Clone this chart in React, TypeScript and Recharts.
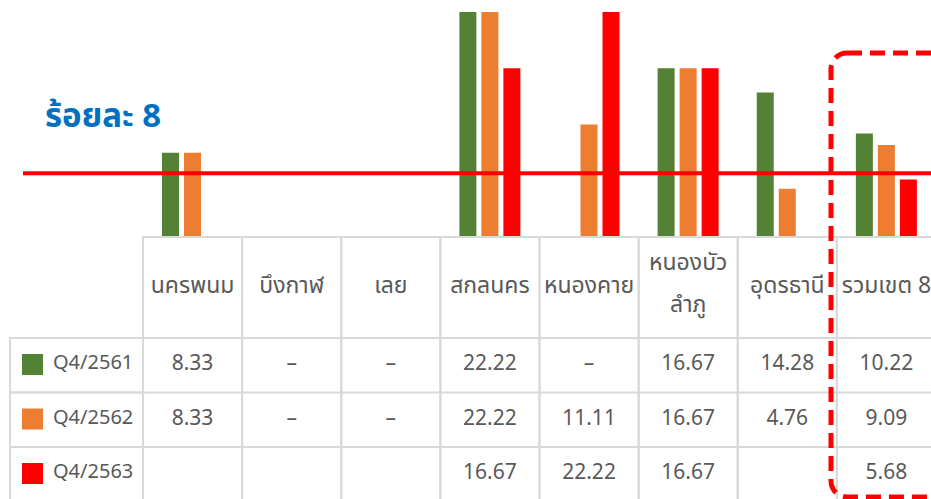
import { Bar, BarChart, ReferenceLine, XAxis, YAxis } from "recharts";

const provinces = [
  "นครพนม",
  "บึงกาฬ",
  "เลย",
  "สกลนคร",
  "หนองคาย",
  "หนองบัวลำภู",
  "อุดรธานี",
  "รวมเขต 8",
];
// header labels as they wrap in the table cell
const headerLines = [
  ["นครพนม"],
  ["บึงกาฬ"],
  ["เลย"],
  ["สกลนคร"],
  ["หนองคาย"],
  ["หนองบัว", "ลำภู"],
  ["อุดรธานี"],
  ["รวมเขต 8"],
];
// 0 = shown as "–", null = empty cell
const q2561 = [8.33, 0, 0, 22.22, 0, 16.67, 14.28, 10.22];
const q2562 = [8.33, 0, 0, 22.22, 11.11, 16.67, 4.76, 9.09];
const q2563 = [null, null, null, 16.67, 22.22, 16.67, null, 5.68];

const seriesNames = ["Q4/2561", "Q4/2562", "Q4/2563"];
const seriesKeys = ["q2561", "q2562", "q2563"];
const colors = ["#548235", "#ED7D31", "#FF0000"];
const targetLine = 6.3;
const targetLabel = "ร้อยละ 8";

const data = provinces.map((name, i) => ({
  name,
  q2561: q2561[i],
  q2562: q2562[i],
  q2563: q2563[i],
}));

const FONT = "'Noto Sans Thai', 'Noto Sans', Tahoma, sans-serif";
const GRID = "#D9D9D9";
const TEXT = "#595959";
const COL_W = 99;
const HEAD_H = 101;
const ROW_H = 54.5;
const TABLE_TOP = 237;

const fmt = (v: number | null) => (v === null ? "" : v === 0 ? "–" : v.toFixed(2));

function TableColumn(props: any) {
  const { x, payload } = props;
  const y = TABLE_TOP;
  const i = provinces.indexOf(payload.value);
  const left = x - COL_W / 2;
  const lines = headerLines[i] || [payload.value];
  const vals = [q2561[i], q2562[i], q2563[i]];
  return (
    <g>
      <rect x={left} y={y} width={COL_W} height={HEAD_H + ROW_H * 3} fill="none" stroke={GRID} strokeWidth={2} />
      {[0, 1, 2].map((r) => (
        <line key={r} x1={left} x2={left + COL_W} y1={y + HEAD_H + ROW_H * r} y2={y + HEAD_H + ROW_H * r} stroke={GRID} strokeWidth={2} />
      ))}
      {lines.map((l, k) => (
        <text
          key={k}
          x={x}
          y={y + (lines.length === 1 ? 56 : 33 + k * 42)}
          textAnchor="middle"
          fontSize={23}
          fill={TEXT}
          fontFamily={FONT}
        >
          {l}
        </text>
      ))}
      {vals.map((v, r) => (
        <text
          key={r}
          x={x}
          y={y + HEAD_H + ROW_H * r + 32}
          textAnchor="middle"
          fontSize={21}
          fill={TEXT}
          fontFamily={FONT}
        >
          {fmt(v)}
        </text>
      ))}
    </g>
  );
}

function TargetLine(props: any) {
  const { x2, y1 } = props;
  return (
    <g>
      <line x1={23} x2={x2} y1={y1} y2={y1} stroke="#FF0000" strokeWidth={4} />
      <text x={45} y={y1 - 46} fontSize={33} fontWeight="bold" fill="#0070C0" fontFamily={FONT}>
        {targetLabel}
      </text>
    </g>
  );
}

export default function App() {
  return (
    <div
      style={{
        position: "absolute",
        left: 0,
        top: 0,
        width: 931,
        height: 499,
        overflow: "hidden",
        background: "#fff",
      }}
    >
      <BarChart
        width={936}
        height={499}
        data={data}
        margin={{ top: 12, right: 0, left: 143, bottom: 0 }}
        barSize={17}
        barGap={5}
      >
        <XAxis
          dataKey="name"
          height={262}
          axisLine={false}
          tickLine={false}
          interval={0}
          tick={<TableColumn />}
        />
        <YAxis hide domain={[0, 22.22]} />
        {seriesKeys.map((k, i) => (
          <Bar key={k} dataKey={k} fill={colors[i]} isAnimationActive={false} />
        ))}
        <ReferenceLine y={targetLine} shape={<TargetLine />} ifOverflow="visible" />
      </BarChart>
      {/* legend column of the data table */}
      <svg width={931} height={499} style={{ position: "absolute", left: 0, top: 0, pointerEvents: "none" }}>
        {seriesNames.map((s, r) => {
          const top = TABLE_TOP + HEAD_H + ROW_H * r;
          return (
            <g key={s}>
              <rect x={10} y={top} width={133} height={ROW_H} fill="none" stroke={GRID} strokeWidth={2} />
              <rect x={22} y={top + 16} width={21} height={21} fill={colors[r]} />
              <text x={53} y={top + 31} fontSize={20} fill={TEXT} fontFamily={FONT}>
                {s}
              </text>
            </g>
          );
        })}
        <rect
          x={831}
          y={53}
          width={140}
          height={444}
          rx={16}
          fill="none"
          stroke="#FF0000"
          strokeWidth={5}
          strokeDasharray="15 8"
        />
      </svg>
    </div>
  );
}
